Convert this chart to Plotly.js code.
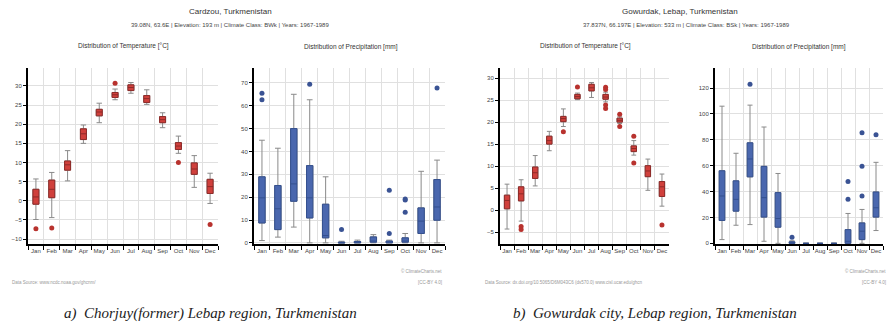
<!DOCTYPE html>
<html><head><meta charset="utf-8">
<script src="https://cdn.plot.ly/plotly-3.0.1.min.js"></script>
<style>html,body{margin:0;padding:0;background:#fff}#c{width:890px;height:324px}</style>
</head><body><div id="c"></div>
<script>
const months = ['Jan','Feb','Mar','Apr','May','Jun','Jul','Aug','Sep','Oct','Nov','Dec'];

// Panel a: Cardzou – temperature [°C]
const aTempLo  = [-4.9,-4.4, 5.2,15.0,20.4,26.4,28.1,25.2,19.1,12.4, 3.5,-0.7];
const aTempQ1  = [-0.9, 0.8, 8.0,16.0,22.2,27.0,28.8,25.7,20.4,13.4, 6.9, 1.9];
const aTempMed = [ 1.0, 3.0, 9.4,17.5,23.2,27.7,29.6,26.7,21.2,14.3, 8.3, 3.7];
const aTempQ3  = [ 3.0, 5.4,10.4,18.8,23.9,28.3,30.3,27.5,22.0,15.2, 9.9, 5.6];
const aTempHi  = [ 5.7, 7.4,13.1,19.8,25.5,29.2,30.9,29.0,23.0,16.9,11.8, 7.2];
const aTempOutX = ['Jan','Feb','Jun','Oct','Dec'];
const aTempOutY = [-7.3,-7.1,30.7,10.0,-6.2];

// Panel a: Cardzou – precipitation [mm]
const aPrecLo  = [ 1.0, 2.5, 6.9, 0.0, 0.0,0.0,0.0,0.0,0.0,0.0, 0.0, 0.0];
const aPrecQ1  = [ 8.7, 5.8,18.2,10.9, 2.2,0.0,0.0,0.3,0.0,0.3, 4.1, 9.9];
const aPrecMed = [19.7,14.9,25.8,19.7, 3.2,0.0,0.2,0.8,0.2,0.8, 9.5,15.7];
const aPrecQ3  = [28.9,25.1,50.0,33.8,16.9,0.3,0.6,2.6,0.8,2.2,15.3,27.7];
const aPrecHi  = [44.9,41.4,65.0,62.6,28.9,0.7,1.2,3.6,1.2,4.1,31.3,36.2];
const aPrecOutX = ['Jan','Jan','Apr','Jun','Sep','Sep','Oct','Oct','Oct','Dec'];
const aPrecOutY = [65.5,62.6,69.4,5.8,23.0,4.1,19.2,18.7,13.4,67.7];

// Panel b: Gowurdak – temperature [°C]
const bTempLo  = [-4.3,-2.5, 5.5,13.5,19.0,25.1,25.6,24.6,19.7,12.5, 4.5, 0.9];
const bTempQ1  = [ 0.3, 2.1, 7.2,15.0,20.1,25.3,27.1,25.2,20.0,13.3, 7.6, 3.1];
const bTempMed = [ 2.2, 3.7, 8.5,15.8,20.8,25.8,27.8,25.7,20.4,14.0, 8.9, 5.3];
const bTempQ3  = [ 3.4, 5.3, 9.8,16.8,21.3,26.3,28.6,26.3,20.9,14.6,10.1, 6.5];
const bTempHi  = [ 5.9, 6.9,12.4,17.9,23.0,26.6,29.0,26.8,21.2,15.8,11.6, 8.2];
const bTempOutX = ['Feb','Feb','May','Jun','Aug','Aug','Aug','Aug','Sep','Sep','Oct','Oct','Dec'];
const bTempOutY = [-3.7,-4.4,17.8,28.0,27.9,27.4,23.9,23.1,21.8,19.0,16.8,10.7,-3.4];

// Panel b: Gowurdak – precipitation [mm]
const bPrecLo  = [  2.9,14.0, 14.5, 1.6, 0.0,0.0,0,0,0, 0.0, 0.0, 9.9];
const bPrecQ1  = [ 17.7,24.9, 51.4,20.3,12.5,0.0,0,0,0, 0.0, 2.9,20.3];
const bPrecMed = [ 36.6,34.0, 65.2,35.3,19.2,0.3,0,0,0, 1.6, 9.4,27.5];
const bPrecQ3  = [ 56.1,48.3, 77.7,59.5,39.2,1.2,0,0,0,10.6,15.8,39.7];
const bPrecHi  = [106.0,69.6,106.8,89.9,54.0,2.0,0,0,0,23.1,26.2,62.6];
const bPrecOutX = ['Mar','Jun','Oct','Oct','Nov','Nov','Nov','Dec'];
const bPrecOutY = [123.0,4.7,34.0,47.8,36.6,59.5,85.5,84.0];

const RED = '#d0403c', REDL = '#8e2a28', REDO = '#b8322e';
const BLUE = '#4a67ae', BLUEL = '#34508f', BLUEO = '#3a5394';
const WHISK = '#8a8a8a';

function boxSet(xa, ya, lo, q1, med, q3, hi, outX, outY, fill, edge, outC, w) {
  return [
    {type:'box', x:months, q1:q1, median:med, q3:q3, lowerfence:lo, upperfence:hi,
     xaxis:xa, yaxis:ya, fillcolor:'rgba(0,0,0,0)', line:{color:WHISK, width:1},
     width:w, whiskerwidth:0.9, boxpoints:false, showlegend:false, hoverinfo:'skip'},
    {type:'box', x:months, q1:q1, median:med, q3:q3, lowerfence:q1, upperfence:q3,
     xaxis:xa, yaxis:ya, fillcolor:fill, line:{color:edge, width:1},
     width:w, whiskerwidth:0, boxpoints:false, showlegend:false, hoverinfo:'skip'},
    {type:'scatter', mode:'markers', x:outX, y:outY, xaxis:xa, yaxis:ya,
     marker:{color:outC, size:5}, showlegend:false, hoverinfo:'skip'}
  ];
}

const data = [].concat(
  boxSet('x','y',  aTempLo,aTempQ1,aTempMed,aTempQ3,aTempHi,aTempOutX,aTempOutY,RED,REDL,REDO,0.38),
  boxSet('x2','y2',aPrecLo,aPrecQ1,aPrecMed,aPrecQ3,aPrecHi,aPrecOutX,aPrecOutY,BLUE,BLUEL,BLUEO,0.4),
  boxSet('x3','y3',bTempLo,bTempQ1,bTempMed,bTempQ3,bTempHi,bTempOutX,bTempOutY,RED,REDL,REDO,0.38),
  boxSet('x4','y4',bPrecLo,bPrecQ1,bPrecMed,bPrecQ3,bPrecHi,bPrecOutX,bPrecOutY,BLUE,BLUEL,BLUEO,0.4)
);

const FONT = 'Liberation Sans, Arial, sans-serif';
function xax(dom, anchor) {
  return {domain:dom, anchor:anchor, type:'category', categoryorder:'array', categoryarray:months,
    tickson:'boundaries', ticks:'outside', ticklen:4, tickwidth:1, tickcolor:'#000', tickangle:0,
    showline:true, linecolor:'#000', linewidth:2, showgrid:true, gridcolor:'#e0e0e0', gridwidth:1,
    tickfont:{family:FONT, size:6, color:'#444'}, fixedrange:true, range:[-0.5,11.5]};
}
function yax(dom, anchor, range, dtick) {
  return {domain:dom, anchor:anchor, range:range, dtick:dtick, ticks:'outside', ticklen:3,
    tickcolor:'#000', showline:true, linecolor:'#000', linewidth:2, showgrid:true,
    gridcolor:'#e0e0e0', zeroline:false, tickfont:{family:FONT, size:6, color:'#444'}, fixedrange:true};
}
const yd = [1-244/324, 1-68/324];
function px(x){return x/890;}
function py(y){return 1-y/324;}
function ann(text, x, y, size, color, xanchor, extra) {
  return Object.assign({text:text, x:px(x), y:py(y), xref:'paper', yref:'paper', showarrow:false,
    xanchor:xanchor||'center', yanchor:'middle', font:{family:FONT, size:size, color:color}}, extra||{});
}
const SERIF = 'Liberation Serif, Times New Roman, serif';

const layout = {
  width:890, height:324, margin:{l:0,r:0,t:0,b:0}, paper_bgcolor:'#fff', plot_bgcolor:'#fff',
  boxmode:'overlay', showlegend:false,
  xaxis: xax([px(28),px(218)],'y'),   yaxis: yax(yd,'x', [-11.3,34.7], 5),
  xaxis2:xax([px(254),px(445)],'y2'), yaxis2:yax(yd,'x2',[-0.5,76.5], 10),
  xaxis3:xax([px(500),px(669)],'y3'), yaxis3:yax(yd,'x3',[-7.7,32.3], 5),
  xaxis4:xax([px(715),px(883)],'y4'), yaxis4:yax(yd,'x4',[-0.5,135.5], 20),
  annotations:[
    ann('Cardzou, Turkmenistan', 230, 11, 8, '#333'),
    ann('39.08N, 63.6E | Elevation: 193 m | Climate Class: BWk | Years: 1967-1989', 230, 25, 6, '#444'),
    ann('Distribution of Temperature [°C]', 123, 46, 6.5, '#333'),
    ann('Distribution of Precipitation [mm]', 351, 47, 6.5, '#333'),
    ann('Data Source: www.ncdc.noaa.gov/ghcnm/', 10, 282, 4.5, '#999', 'left'),
    ann('© ClimateCharts.net', 444, 271, 4.5, '#999', 'right'),
    ann('[CC-BY 4.0]', 444, 282, 4.5, '#999', 'right'),
    ann('Gowurdak, Lebap, Turkmenistan', 680, 11, 8, '#333'),
    ann('37.837N, 66.197E | Elevation: 533 m | Climate Class: BSk | Years: 1967-1989', 686, 25, 6, '#444'),
    ann('Distribution of Temperature [°C]', 585, 46, 6.5, '#333'),
    ann('Distribution of Precipitation [mm]', 799, 47, 6.5, '#333'),
    ann('Data Source: dx.doi.org/10.5065/D6M043C6 (ds570.0) www.cisl.ucar.edu/ghcn', 483, 282, 4.5, '#999', 'left'),
    ann('© ClimateCharts.net', 888, 271, 4.5, '#999', 'right'),
    ann('[CC-BY 4.0]', 888, 282, 4.5, '#999', 'right'),
    ann('<i>a)  Chorjuy(former) Lebap region, Turkmenistan</i>', 210, 313, 15, '#222', 'center', {font:{family:SERIF,size:15,color:'#222'}}),
    ann('<i>b)  Gowurdak city, Lebap region, Turkmenistan</i>', 655, 313, 15, '#222', 'center', {font:{family:SERIF,size:15,color:'#222'}})
  ]
};
Plotly.newPlot('c', data, layout, {displayModeBar:false, staticPlot:true});
</script></body></html>
